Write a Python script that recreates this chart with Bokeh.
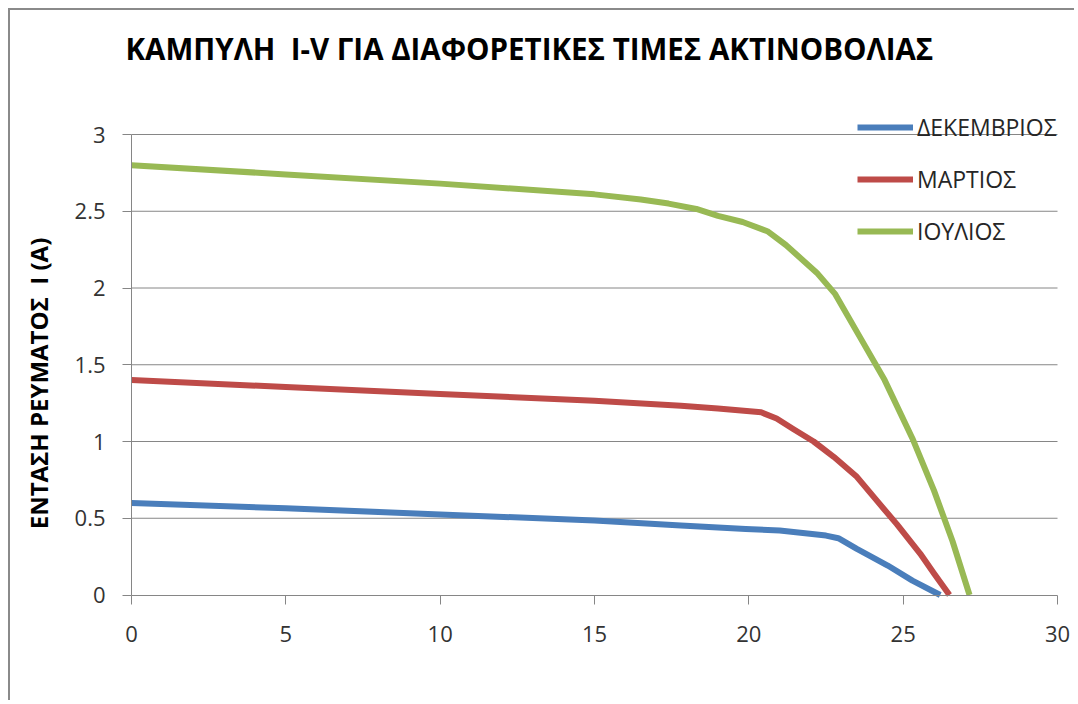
import math
from bokeh.plotting import figure
from bokeh.models import (Range1d, FixedTicker, CustomJSTickFormatter, Label,
                          Legend, LegendItem)
from bokeh.embed import file_html
from bokeh.resources import INLINE

# ---- data ----
title_text = "ΚΑΜΠΥΛΗ \u00a0I-V ΓΙΑ ΔΙΑΦΟΡΕΤΙΚΕΣ ΤΙΜΕΣ ΑΚΤΙΝΟΒΟΛΙΑΣ"
y_label_text = "ΕΝΤΑΣΗ ΡΕΥΜΑΤΟΣ \u00a0I (A)"
series_names = ["ΔΕΚΕΜΒΡΙΟΣ", "ΜΑΡΤΙΟΣ", "ΙΟΥΛΙΟΣ"]

V_dec = [0, 5, 10, 15, 17.8, 19.9, 21.0, 22.5, 22.9, 23.5, 23.8, 24.5, 25.3, 26.2]
I_dec = [0.60, 0.565, 0.525, 0.485, 0.452, 0.43, 0.42, 0.387, 0.37, 0.30, 0.268, 0.192, 0.094, 0.0]

V_mar = [0, 5, 10, 15, 17.8, 19.0, 20.4, 20.9, 21.45, 22.1, 22.75, 23.5, 24.25, 24.8, 25.55, 26.0, 26.5]
I_mar = [1.40, 1.355, 1.31, 1.265, 1.233, 1.215, 1.19, 1.15, 1.08, 1.0, 0.90, 0.77, 0.59, 0.46, 0.27, 0.14, 0.0]

V_jul = [0, 5, 10, 15, 16.5, 17.4, 18.3, 19, 19.8, 20.6, 21.2, 22.2, 22.8, 23.6, 24.4, 25.3, 26.0, 26.6, 27.15]
I_jul = [2.80, 2.74, 2.68, 2.61, 2.577, 2.55, 2.515, 2.47, 2.43, 2.37, 2.28, 2.10, 1.96, 1.68, 1.40, 1.02, 0.68, 0.35, 0.0]

x_ticks = [0, 5, 10, 15, 20, 25, 30]
y_ticks = [0, 0.5, 1, 1.5, 2, 2.5, 3]

colors = ["#4A7EBB", "#BE4B48", "#98B954"]
FONT = "Open Sans"
GRID = "#868686"

# ---- layout (canvas pixels) ----
W, H = 1066, 692
AX_LEFT, AX_RIGHT = 121, 1047      # pixel of x=0 and x=30
AX_TOP, AX_BOTTOM = 124, 584.5     # pixel of y=3 and y=0
xmin, xmax = x_ticks[0], x_ticks[-1]
ymin, ymax = y_ticks[0], y_ticks[-1]
sx = (AX_RIGHT - AX_LEFT) / (xmax - xmin)
sy = (AX_BOTTOM - AX_TOP) / (ymax - ymin)
x_range = Range1d(xmin - AX_LEFT / sx, xmax + (W - AX_RIGHT) / sx)
y_range = Range1d(ymin - (H - AX_BOTTOM) / sy, ymax + AX_TOP / sy)

p = figure(width=W, height=H, output_backend="svg", toolbar_location=None,
           x_range=x_range, y_range=y_range, min_border=0)
p.styles = {"margin-left": "8px", "margin-top": "8px",
            "border-left": "2px solid #8a8a8a", "border-top": "2px solid #8a8a8a"}
p.background_fill_color = "white"
p.border_fill_color = "white"
p.outline_line_color = None
p.xgrid.visible = False
p.ygrid.visible = False

fmt = CustomJSTickFormatter(code="return tick.toString();")
for ax, ticks in ((p.xaxis[0], x_ticks), (p.yaxis[0], y_ticks)):
    ax.ticker = FixedTicker(ticks=ticks)
    ax.formatter = fmt
    ax.fixed_location = 0
    ax.bounds = (ticks[0], ticks[-1])
    ax.axis_line_color = GRID
    ax.major_tick_line_color = GRID
    ax.major_tick_out = 9
    ax.major_tick_in = 0
    ax.minor_tick_line_color = None
    ax.major_label_text_font = FONT
    ax.major_label_text_font_size = "22px"
    ax.major_label_text_color = "#333333"
p.xaxis.major_label_standoff = 22
p.yaxis.major_label_standoff = 17

# horizontal gridlines between the axis bounds
grid_y = y_ticks[1:]
p.segment(x0=[xmin] * len(grid_y), x1=[xmax] * len(grid_y), y0=grid_y, y1=grid_y,
          line_color=GRID, line_width=1)

renderers = []
for (vx, iy), c in zip(((V_dec, I_dec), (V_mar, I_mar), (V_jul, I_jul)), colors):
    r = p.line(vx, iy, line_color=c, line_width=6, line_join="round", line_cap="butt")
    renderers.append(r)

legend = Legend(items=[LegendItem(label=n, renderers=[r]) for n, r in zip(series_names, renderers)],
                location=(847, 455), orientation="vertical",
                background_fill_alpha=0, border_line_alpha=0,
                padding=0, margin=0, spacing=20, glyph_width=56, glyph_height=20,
                label_height=20, label_standoff=4,
                label_text_font=FONT, label_text_font_size="23px",
                label_text_color="#262626")
p.add_layout(legend, "center")

title = Label(x=115, y=H - 38, x_units="screen", y_units="screen", text=title_text,
              text_font=FONT, text_font_size="29.5px", text_font_style="bold",
              text_color="black", text_align="left", text_baseline="alphabetic")
p.add_layout(title)

ylab = Label(x=28, y=H - 373, x_units="screen", y_units="screen", text=y_label_text,
             angle=math.pi / 2, text_font=FONT, text_font_size="24px",
             text_font_style="bold", text_color="black", text_align="center",
             text_baseline="middle")
p.add_layout(ylab)

open("out.html", "w").write(file_html(p, INLINE))
